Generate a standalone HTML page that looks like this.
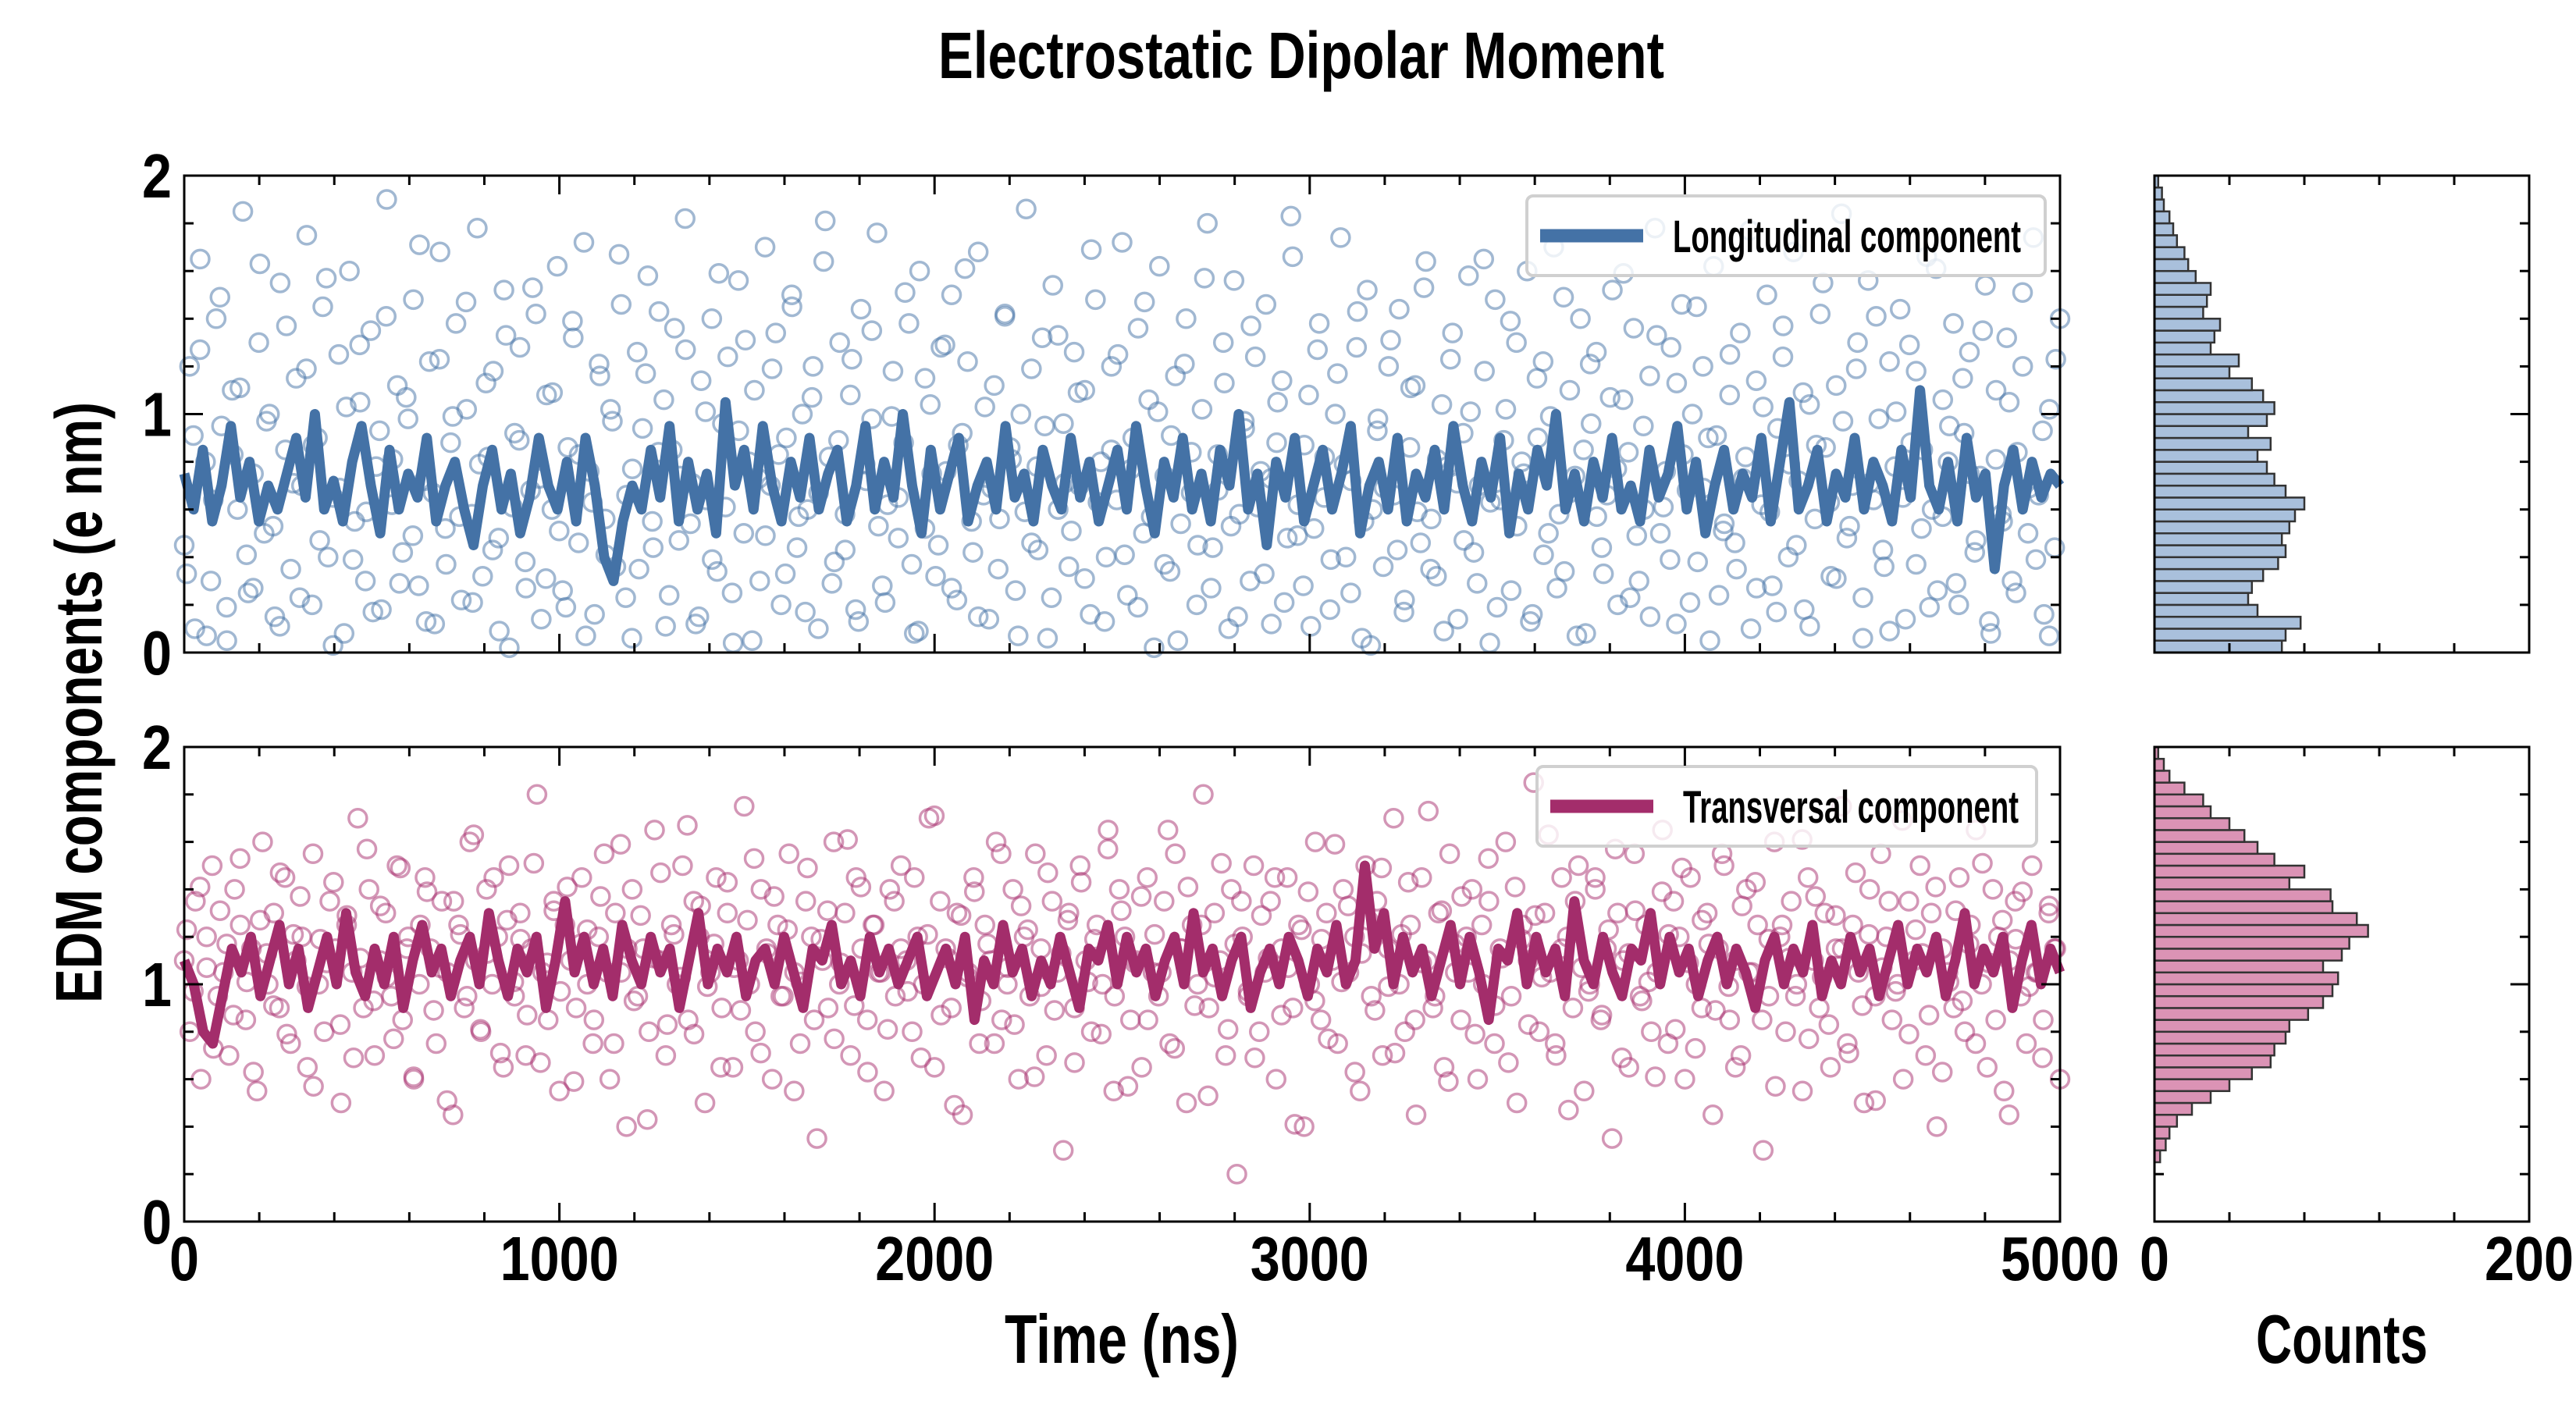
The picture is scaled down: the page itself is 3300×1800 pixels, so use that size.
<!DOCTYPE html>
<html><head><meta charset="utf-8"><style>
html,body{margin:0;padding:0;background:#fff;}
svg{display:block;}
text{font-family:"Liberation Sans Narrow","Liberation Sans",sans-serif;font-weight:bold;fill:#000;}
</style></head><body>
<svg id="chart" width="3300" height="1800" viewBox="0 0 3300 1800" xmlns="http://www.w3.org/2000/svg">
<text x="1667" y="100" text-anchor="middle" font-size="84" textLength="930" lengthAdjust="spacingAndGlyphs">Electrostatic Dipolar Moment</text>
<text transform="translate(130,900) rotate(-90)" text-anchor="middle" font-size="84" textLength="770" lengthAdjust="spacingAndGlyphs">EDM components (e nm)</text>
<text x="1437" y="1746" text-anchor="middle" font-size="88" textLength="300" lengthAdjust="spacingAndGlyphs">Time (ns)</text>
<text x="3000" y="1746" text-anchor="middle" font-size="88" textLength="220" lengthAdjust="spacingAndGlyphs">Counts</text>
<g id="layer"></g>
</svg>
<script>
// ---------- data ----------
const timeMax = 5000;
const longLine = [0.75,0.6,0.85,0.55,0.7,0.95,0.65,0.8,0.55,0.7,0.6,0.75,0.9,0.65,1.0,0.6,0.72,0.55,0.8,0.95,0.7,0.5,0.85,0.6,0.75,0.65,0.9,0.55,0.7,0.8,0.6,0.45,0.7,0.85,0.6,0.75,0.5,0.65,0.9,0.7,0.6,0.8,0.55,0.9,0.7,0.4,0.3,0.55,0.7,0.6,0.85,0.65,0.95,0.55,0.8,0.6,0.75,0.5,1.05,0.7,0.85,0.6,0.95,0.7,0.55,0.8,0.65,0.9,0.6,0.75,0.85,0.55,0.7,0.95,0.6,0.8,0.65,1.0,0.7,0.5,0.85,0.6,0.75,0.9,0.55,0.7,0.8,0.6,0.95,0.65,0.75,0.55,0.85,0.7,0.6,0.9,0.65,0.8,0.55,0.7,0.85,0.6,0.95,0.7,0.5,0.8,0.65,0.9,0.6,0.75,0.55,0.85,0.7,1.0,0.6,0.75,0.45,0.8,0.65,0.9,0.55,0.7,0.85,0.6,0.75,0.95,0.5,0.7,0.8,0.6,0.9,0.55,0.75,0.65,0.85,0.6,0.95,0.7,0.55,0.8,0.65,0.9,0.5,0.75,0.6,0.85,0.7,1.0,0.6,0.75,0.55,0.8,0.65,0.9,0.6,0.7,0.55,0.85,0.65,0.75,0.95,0.6,0.8,0.5,0.7,0.85,0.6,0.75,0.65,0.9,0.55,0.8,1.05,0.6,0.7,0.85,0.55,0.75,0.65,0.9,0.6,0.8,0.7,0.55,0.85,0.65,1.1,0.7,0.6,0.8,0.55,0.9,0.65,0.75,0.35,0.7,0.85,0.6,0.8,0.65,0.75,0.7];
const transLine = [1.1,1.0,0.8,0.75,0.95,1.15,1.05,1.2,0.95,1.1,1.25,1.0,1.15,0.9,1.05,1.2,1.0,1.3,1.05,0.95,1.15,1.0,1.2,0.9,1.1,1.25,1.05,1.15,0.95,1.1,1.2,1.0,1.3,1.1,0.95,1.15,1.05,1.2,0.9,1.1,1.35,1.05,1.2,1.0,1.15,0.95,1.25,1.1,1.0,1.2,1.05,1.15,0.9,1.1,1.3,1.0,1.15,1.05,1.2,0.95,1.1,1.15,1.0,1.2,1.05,0.9,1.15,1.1,1.25,1.0,1.1,0.95,1.2,1.05,1.15,1.0,1.1,1.2,0.95,1.05,1.15,1.0,1.2,0.85,1.1,1.0,1.25,1.05,1.15,0.95,1.1,1.0,1.2,1.05,0.9,1.15,1.1,1.25,1.0,1.2,1.05,1.15,0.95,1.1,1.2,1.0,1.3,1.05,1.15,0.95,1.1,1.2,0.9,1.05,1.15,1.0,1.2,1.1,0.95,1.15,1.05,1.25,1.0,1.1,1.5,1.15,1.3,1.0,1.2,1.05,1.15,0.95,1.1,1.25,1.0,1.2,1.05,0.85,1.15,1.1,1.3,1.0,1.2,1.05,1.15,0.95,1.35,1.1,1.0,1.2,1.05,0.95,1.15,1.1,1.3,1.0,1.2,1.05,1.15,0.95,1.1,1.2,1.0,1.15,1.05,0.9,1.1,1.2,1.0,1.15,1.05,1.25,0.95,1.1,1.0,1.2,1.05,1.15,0.95,1.1,1.25,1.0,1.15,1.05,1.2,0.95,1.1,1.3,1.0,1.15,1.05,1.2,0.9,1.1,1.25,1.0,1.15,1.05];
const longScatter = [0.45,1.2,0.1,1.65,0.8,0.3,1.4,0.95,0.05,1.1,0.6,1.85,0.25,0.75,1.3,0.5,1.0,0.15,1.55,0.85,0.35,1.15,0.7,1.75,0.2,0.9,1.45,0.4,0.65,1.25,0.08,1.6,0.55,1.05,0.3,1.35,0.78,0.18,1.9,0.62,1.12,0.42,0.98,1.48,0.28,0.72,1.22,0.12,1.68,0.52,0.88,1.38,0.22,1.02,0.58,1.78,0.32,0.82,1.18,0.48,1.52,0.02,0.92,1.28,0.38,0.68,1.42,0.14,1.08,0.6,1.62,0.26,0.86,1.32,0.46,1.72,0.76,0.16,1.16,0.56,1.02,0.36,1.46,0.66,0.06,1.26,0.94,1.58,0.44,0.84,1.06,0.24,1.36,0.74,1.82,0.54,0.12,1.14,0.64,1.4,0.34,0.96,1.24,0.04,1.56,0.5,0.8,1.1,0.3,1.7,0.7,1.34,0.2,0.9,1.5,0.44,1.0,0.6,1.2,0.1,1.64,0.82,0.38,1.3,0.58,1.08,0.18,1.44,0.72,0.98,1.76,0.28,0.62,1.18,0.48,0.88,1.38,0.08,1.6,0.52,1.04,0.32,1.28,0.76,1.5,0.22,0.92,1.22,0.42,1.68,0.66,0.14,1.12,0.56,1.42,0.86,0.26,1.0,1.86,0.46,0.78,1.32,0.06,1.54,0.6,0.96,0.36,1.26,0.7,1.1,0.16,1.48,0.8,0.4,1.2,0.64,1.72,0.24,0.9,1.36,0.5,1.06,0.02,1.62,0.74,0.34,1.16,0.54,1.4,0.84,0.2,1.02,1.8,0.44,0.68,1.3,0.1,1.56,0.58,0.94,0.3,1.24,0.76,1.46,0.12,0.88,1.14,0.48,1.66,0.62,0.28,1.08,0.52,1.38,0.82,0.18,1.0,1.74,0.4,0.72,1.28,0.06,1.52,0.6,0.98,0.36,1.2,0.66,1.44,0.22,0.86,1.12,0.46,1.64,0.56,0.32,1.04,0.78,1.34,0.14,0.92,1.58,0.42,0.7,1.18,0.04,1.48,0.64,1.02,0.26,1.3,0.8,1.6,0.16,0.9,1.22,0.5,1.7,0.58,0.34,1.1,0.74,1.4,0.08,0.96,1.26,0.44,0.66,1.52,0.2,1.06,0.84,1.36,0.3,0.6,1.16,1.78,0.5,0.76,1.28,0.12,1.46,0.68,1.0,0.38,1.2,0.9,1.62,0.24,0.54,1.08,0.46,1.34,0.82,0.1,1.14,0.62,1.5,0.28,0.94,1.24,0.4,1.68,0.72,0.18,1.04,0.56,1.42,0.86,0.32,1.12,1.84,0.48,0.7,1.3,0.06,1.56,0.64,0.98,0.36,1.22,0.78,1.44,0.14,0.88,1.18,0.52,1.66,0.6,0.26,1.06,0.8,1.38,0.2,0.92,1.26,0.42,0.74,1.54,0.08,1.1,0.58,1.32,0.3,0.84,1.2,0.5,1.74,0.66,0.16,1.02,0.44,1.4];
const longScatter2 = [0.33,0.91,1.27,0.07,0.64,1.49,0.19,0.83,1.11,0.41,0.27,1.63,0.97,0.53,0.11,1.37,0.71,0.23,1.19,0.87,0.47,1.57,0.03,0.69,1.03,0.39,1.29,0.59,0.17,0.93,1.41,0.81,0.29,1.07,0.49,1.71,0.13,0.67,1.23,0.37,0.99,0.57,1.47,0.21,0.79,1.13,0.43,0.09,1.33,0.61,0.89,0.27,1.53,0.73,0.31,1.09,0.51,0.19,1.39,0.83,0.07,0.63,1.21,0.41,0.97,1.67,0.23,0.77,0.35,1.17,0.55,1.43,0.11,0.85,0.47,1.27,0.71,0.15,1.01,0.39,1.59,0.61,0.25,0.93,1.31,0.05,0.73,0.49,1.19,0.83,0.33,1.45,0.57,0.17,1.07,0.67,1.81,0.29,0.89,0.43,1.23,0.13,0.79,1.35,0.53,0.21,0.99,0.65,1.51,0.37,0.09,1.15,0.75,0.45,1.29,0.27,0.87,1.61,0.55,0.15,1.03,0.69,0.35,1.41,0.81,0.07,0.59,1.19,0.43,0.95,0.23,1.33,0.71,0.51,1.09,0.31,1.69,0.63,0.13,0.85,1.25,0.41,0.77,0.19,1.47,0.57,1.01,0.37,0.91,0.05,1.21,0.67,0.45,1.57,0.27,0.83,1.13,0.53,0.15,0.97,1.37,0.61,0.33,0.73,1.05,0.21,1.83,0.49,0.87,0.11,1.27,0.65,0.39,1.17,0.79,0.25,1.43,0.55,0.03,0.93,0.69,1.31,0.43,0.17,1.11,0.59,1.53,0.35,0.81,0.09,1.23,0.71,0.47,1.01,0.29,1.65,0.63,0.19,0.89,1.39,0.53,0.75,0.13,1.15,0.41,0.99,0.27,1.49,0.67,0.07,0.85,1.21,0.57,0.33,1.07,0.77,1.59,0.23,0.49,0.95,0.15,1.33,0.61,0.39,1.13,0.83,0.21,1.45,0.69,0.05,0.91,0.51,1.25,0.35,0.73,1.77,0.27,1.03,0.59,0.17,1.37,0.79,0.45,1.09,0.11,0.87,1.55,0.63,0.31,0.97,0.53,1.19,0.23,0.71,1.41,0.43,0.09,1.01,0.65,1.29,0.37,0.85,0.19,1.61,0.57,0.95,0.29,1.15,0.75,0.47,1.35,0.13,0.81,0.55,1.05,0.25,1.51,0.69,0.39,0.93,0.07,1.23];
const transScatter = [1.1,0.8,1.35,0.6,1.2,1.5,0.95,1.05,0.7,1.4,1.25,0.85,1.15,0.55,1.6,1.0,1.3,0.9,1.45,0.75,1.1,1.2,0.65,1.55,1.0,0.8,1.35,1.15,0.5,1.25,1.05,1.7,0.9,1.4,0.7,1.1,1.3,0.95,1.5,0.85,1.2,0.6,1.0,1.45,1.15,0.75,1.35,1.05,0.45,1.25,0.9,1.6,1.1,0.8,1.4,1.0,1.2,0.65,1.5,0.95,1.3,0.7,1.15,1.8,1.05,0.85,1.35,0.55,1.25,1.1,0.9,1.45,1.0,0.75,1.2,1.55,0.6,1.3,1.05,0.4,1.4,0.95,1.15,0.8,1.65,1.1,0.7,1.25,1.0,1.5,0.85,1.35,1.2,0.5,1.05,1.45,0.9,1.3,0.65,1.1,1.75,1.0,0.8,1.4,1.15,0.6,1.25,0.95,1.55,1.05,0.75,1.35,1.2,0.35,1.1,0.9,1.6,1.0,1.3,0.7,1.45,1.15,0.85,1.25,1.05,0.55,1.4,0.95,1.5,1.1,0.8,1.2,1.0,1.7,0.65,1.35,1.15,0.9,1.3,0.45,1.05,1.45,0.75,1.25,1.1,1.6,0.85,1.0,1.4,0.6,1.2,0.95,1.55,1.15,0.7,1.35,1.05,0.3,1.3,0.9,1.5,1.1,0.8,1.25,1.0,1.65,0.55,1.4,1.2,0.85,1.1,0.65,1.45,1.05,0.95,1.35,0.75,1.55,1.15,0.5,1.25,1.0,1.8,0.9,1.3,1.1,0.7,1.4,0.2,1.2,0.95,1.5,0.8,1.05,1.35,0.6,1.15,1.45,0.9,1.25,0.4,1.0,1.6,0.85,1.3,1.1,0.75,1.4,1.05,1.2,0.55,1.5,0.95,1.35,0.7,1.15,1.7,1.0,0.8,1.25,0.45,1.45,1.1,0.9,1.3,0.65,1.55,1.05,0.85,1.2,1.4,0.6,1.0,1.35,0.75,1.15,1.6,0.95,0.5,1.25,1.1,1.85,0.8,1.3,1.05,0.7,1.45,1.2,0.9,1.5,0.55,1.0,1.4,0.85,1.15,0.35,1.3,1.1,0.65,1.55,0.95,1.25,0.8,1.05,1.65,0.75,1.35,1.2,0.6,1.45,1.0,0.9,1.3,0.45,1.15,1.5,0.85,1.1,0.7,1.4,1.05,1.25,0.3,0.95,1.6,1.2,0.8,1.35,1.0,0.55,1.45,1.1,0.9,1.3,0.65,1.15,1.75,0.75,1.25,1.05,0.5,1.4,0.95,1.55,1.2,0.85,1.0,0.6,1.35,1.1,1.5,0.7,1.3,0.4,1.15,1.05,0.9,1.45,0.8,1.25,1.65,1.0,0.65,1.4,1.2,0.55,1.1,1.35,0.95,0.75,1.5,1.05,0.85,1.3,1.15,0.6];
const transScatter2 = [1.23,0.97,1.41,1.07,0.73,1.31,1.17,0.87,1.53,1.01,0.63,1.27,1.13,0.91,1.47,0.79,1.21,1.37,0.99,0.57,1.19,1.09,1.43,0.83,1.29,0.69,1.11,1.57,0.93,1.33,1.03,0.77,1.49,1.15,0.61,1.25,1.39,0.89,1.07,0.51,1.35,1.21,0.95,1.63,0.81,1.13,1.45,0.71,1.27,1.01,1.19,0.87,1.51,0.67,1.09,1.31,0.97,1.41,0.59,1.17,1.23,0.85,1.37,1.05,0.75,1.59,1.15,0.93,1.29,0.43,1.11,1.47,0.83,1.21,1.03,1.67,0.79,1.33,0.99,1.17,0.65,1.43,1.07,0.89,1.27,1.53,0.71,1.13,1.37,0.95,1.23,0.55,1.01,1.49,0.85,1.19,1.31,0.77,1.09,1.61,0.91,1.41,0.63,1.25,1.05,0.81,1.35,1.15,0.97,1.45,0.69,1.21,1.71,0.87,1.11,0.49,1.29,1.03,1.39,0.93,1.17,0.75,1.55,1.07,0.83,1.33,1.23,0.61,0.99,1.47,0.89,1.13,1.27,0.67,1.43,1.01,1.19,0.79,1.57,0.95,1.31,0.57,1.09,1.37,0.85,1.21,1.05,1.65,0.73,1.15,1.41,0.91,1.25,0.53,1.03,1.51,0.81,1.17,1.35,0.97,0.69,1.29,1.11,1.45,0.87,1.07,0.41,1.23,1.39,0.93,1.19,0.77,1.59,1.01,1.33,0.63,1.13,1.27,0.89,1.49,0.99,0.71,1.21,1.43,0.85,1.09,1.73,0.95,1.31,0.59,1.17,1.37,1.05,0.79,1.25,1.53,0.91,1.11,0.67,1.41,1.19,0.83,1.29,1.03,1.63,0.75,1.15,0.47,1.35,1.07,0.97,1.45,0.87,1.23,1.57,0.69,1.13,1.31,0.93,1.01,0.61,1.39,1.21,0.81,1.49,1.09,0.73,1.27,1.17,0.89,1.55,0.99,0.65,1.33,1.05,1.43,0.85,1.19,0.57,1.25,1.11,0.95,1.61,0.77,1.37,1.03,0.83,1.29,1.15,0.71,1.47,0.91,1.21,0.51,1.07,1.35,0.97,1.69,0.79,1.23,1.13,0.87,1.41,0.63,1.01,1.31,0.93,1.17,0.75,1.51,1.09,0.85,1.27,0.45,1.19,1.39,0.99,1.05,0.69,1.33,1.15];
const longCounts = [68,70,78,55,50,52,58,66,70,68,72,75,80,70,64,60,55,62,50,60,64,58,52,40,45,30,32,35,26,28,30,22,18,16,12,10,8,5,4,2];
const transCounts = [0,0,0,0,0,3,6,8,12,20,30,40,52,62,64,70,72,82,90,95,98,90,100,104,114,108,95,94,72,80,64,55,48,40,30,26,16,8,5,2];
const binWidth = 0.05;
const xTicks = ["0","1000","2000","3000","4000","5000"];
const yTicks = ["0","1","2"];
const histTicks = ["0","200"];

// ---------- layout ----------
const X0=236, X1=2639, H0=2760, H1=3240;
const panels=[{y0:225,y1:836},{y0:957,y1:1565}];
const NS="http://www.w3.org/2000/svg";
const layer=document.getElementById('layer');
function el(tag,attrs,parent){const e=document.createElementNS(NS,tag);for(const k in attrs)e.setAttribute(k,attrs[k]);(parent||layer).appendChild(e);return e;}
const xs=t=>X0+(t/timeMax)*(X1-X0);
const hx=c=>H0+(c/200)*(H1-H0);
function ys(p){return v=>p.y1-(v/2)*(p.y1-p.y0);}

const series=[
 {p:panels[0],line:longLine,sc:longScatter,sc2:longScatter2,counts:longCounts,col:"#4472a6",sc_col:"rgba(68,114,166,0.5)",hist:"#a9c0dc",label:"Longitudinal component",key:"longitudinal",lg:{x:1956,y:251,w:664,h:102}},
 {p:panels[1],line:transLine,sc:transScatter,sc2:transScatter2,counts:transCounts,col:"#a32d6b",sc_col:"rgba(168,45,110,0.5)",hist:"#db93b5",label:"Transversal component",key:"transversal",lg:{x:1969,y:982,w:640,h:102}}
];

series.forEach((s,si)=>{
 const p=s.p, Y=ys(p);
 const g=el('g',{});
 
 
 const sg=el('g',{},g);
 
 
 const n1=s.sc.length, n2=s.sc2.length;
 s.sc.forEach((v,i)=>{
   const c=el('circle',{cx:xs(i*timeMax/(n1-1)),cy:Y(v),r:11.5,fill:"none",stroke:s.sc_col,"stroke-width":3.5},sg);
   
   
 });
 s.sc2.forEach((v,i)=>{
   const c=el('circle',{cx:xs((i+0.37)*timeMax/n2),cy:Y(v),r:11.5,fill:"none",stroke:s.sc_col,"stroke-width":3.5},sg);
   
   
 });
 const pts=s.line.map((v,i)=>xs(i*timeMax/(s.line.length-1)).toFixed(1)+","+Y(v).toFixed(1)).join(" ");
 const pl=el('polyline',{points:pts,fill:"none",stroke:s.col,"stroke-width":13,"stroke-linejoin":"round"},g);
 
 
 const lg=el('g',{},g);
 
 
 el('rect',{x:s.lg.x,y:s.lg.y,width:s.lg.w,height:s.lg.h,rx:8,fill:"rgba(255,255,255,0.8)",stroke:"#d0d0d0","stroke-width":4},lg);
 el('line',{x1:s.lg.x+17,x2:s.lg.x+149,y1:s.lg.y+51,y2:s.lg.y+51,stroke:s.col,"stroke-width":17},lg);
 const lt=el('text',{x:s.lg.x+187,y:s.lg.y+72,"font-size":58,textLength:si==0?446:430,lengthAdjust:"spacingAndGlyphs"},lg);
 lt.textContent=s.label;
 const fr=el('rect',{x:X0,y:p.y0,width:X1-X0,height:p.y1-p.y0,fill:"none",stroke:"#000","stroke-width":3},g);
 
 
 for(let t=0;t<=timeMax;t+=200){const maj=t%1000==0,L=maj?24:12;const x=xs(t);
   el('line',{x1:x,x2:x,y1:p.y1,y2:p.y1-L,stroke:"#000","stroke-width":3},g);
   el('line',{x1:x,x2:x,y1:p.y0,y2:p.y0+L,stroke:"#000","stroke-width":3},g);}
 for(let k=0;k<=10;k++){const v=k*0.2,maj=k%5==0,L=maj?24:12,y=Y(v);
   el('line',{x1:X0,x2:X0+L,y1:y,y2:y,stroke:"#000","stroke-width":3},g);
   el('line',{x1:X1,x2:X1-L,y1:y,y2:y,stroke:"#000","stroke-width":3},g);
   el('line',{x1:H0,x2:H0+L,y1:y,y2:y,stroke:"#000","stroke-width":3},g);
   el('line',{x1:H1,x2:H1-L,y1:y,y2:y,stroke:"#000","stroke-width":3},g);}
 yTicks.forEach((lab,i)=>{
   const t=el('text',{x:220,y:Y(+lab)+28,"text-anchor":"end","font-size":80,textLength:38*lab.length,lengthAdjust:"spacingAndGlyphs"},g);
   
   
   t.textContent=lab;});
 const hg=el('g',{},g);
 
 
 s.counts.forEach((c,i)=>{ if(c<=0)return;
   const r=el('rect',{x:H0,y:Y((i+1)*binWidth),width:hx(c)-H0,height:Y(i*binWidth)-Y((i+1)*binWidth),fill:s.hist,stroke:"#333","stroke-width":2.5},hg);
   
   
 });
 el('rect',{x:H0,y:p.y0,width:H1-H0,height:p.y1-p.y0,fill:"none",stroke:"#000","stroke-width":3},g);
 for(let c=0;c<=200;c+=40){const x=hx(c),L=c%200==0?24:12;
   el('line',{x1:x,x2:x,y1:p.y1,y2:p.y1-L,stroke:"#000","stroke-width":3},g);
   el('line',{x1:x,x2:x,y1:p.y0,y2:p.y0+L,stroke:"#000","stroke-width":3},g);}
});
xTicks.forEach(lab=>{
 const t=el('text',{x:xs(+lab),y:1640,"text-anchor":"middle","font-size":80,textLength:38*lab.length,lengthAdjust:"spacingAndGlyphs"});
 
 
 t.textContent=lab;});
histTicks.forEach(lab=>{
 const t=el('text',{x:hx(+lab),y:1640,"text-anchor":"middle","font-size":80,textLength:38*lab.length,lengthAdjust:"spacingAndGlyphs"});
 
 
 t.textContent=lab;});
</script>
</body></html>
